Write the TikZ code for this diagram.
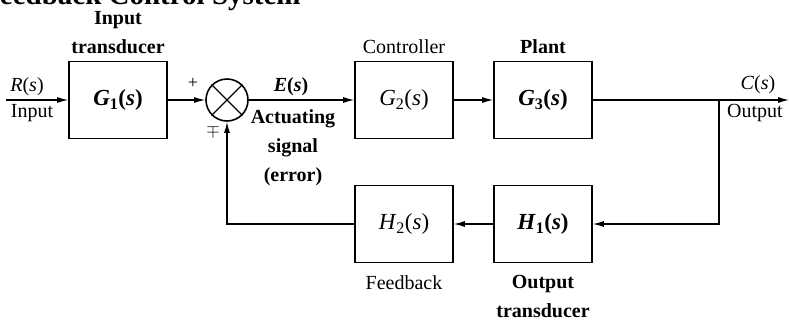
\documentclass[tikz,border=0pt]{standalone}
\usepackage{fontspec}
\setmainfont{Liberation Serif}
\usetikzlibrary{arrows.meta, positioning, calc}

\newcommand{\tfn}[2]{\textit{#1}\textsubscript{#2}(\textit{s})}
\newcommand{\sig}[1]{\textit{#1}(\textit{s})}

\begin{document}
\begin{tikzpicture}[
    x=1pt, y=-1pt,
    >={Latex[length=11pt,width=6pt]},
    block/.style={draw, line width=1.6pt, minimum width=98pt, minimum height=77pt,
                  font=\fontsize{23}{26}\selectfont},
    sumpt/.style={draw, circle, line width=1.6pt, minimum size=42pt, inner sep=0pt},
    signal/.style={->, line width=1.2pt},
    wire/.style={line width=1.2pt},
    note/.style={font=\fontsize{20}{29}\selectfont, align=center, inner sep=0pt},
    boldnote/.style={note, font=\fontsize{20}{29}\selectfont\bfseries},
    sign/.style={font=\fontsize{18}{18}\selectfont, inner sep=0pt},
]
    \useasboundingbox (0,0) rectangle (789,322);
    \clip (0,0) rectangle (789,322);

    % Title (cut off by the frame)
    \node[anchor=base west, inner sep=0pt, font=\fontsize{29}{30}\selectfont\bfseries]
        (title) at (-18,4) {Feedback Control System};

    % Forward path
    \node[block] (g1) at (118,100) {\textbf{\tfn{G}{1}}};
    \node[sumpt] (sum) at (227,100) {};
    \node[block] (g2) at (404,100) {\tfn{G}{2}};
    \node[block] (g3) at (543,100) {\textbf{\tfn{G}{3}}};

    % Feedback path
    \node[block] (h1) at (543,224) {\textbf{\tfn{H}{1}}};
    \node[block] (h2) at (404,224) {\tfn{H}{2}};

    \coordinate (in) at (6,100);
    \coordinate (out) at (789,100);
    \coordinate (branch) at (719,100);

    % Cross in the summing junction
    \draw[wire] (sum.45) -- (sum.225) (sum.135) -- (sum.-45);

    % Arrows
    \draw[signal] (in) -- (g1);
    \draw[signal] (g1) -- (sum);
    \draw[signal] (sum) -- (g2);
    \draw[signal] (g2) -- (g3);
    \draw[signal] (g3) -- (out);
    \draw[signal] (branch) |- (h1);
    \draw[signal] (h1) -- (h2);
    \draw[signal] (h2) -| (sum.south);

    % Labels
    \node[boldnote] (lg1) at (118,33) {Input\\transducer};
    \node[note] (lg2) at (404,47) {Controller};
    \node[boldnote] (lg3) at (543,47) {Plant};
    \node[note] (lh2) at (404,283) {Feedback};
    \node[boldnote] (lh1) at (543,296) {Output\\transducer};

    \node[note] (rs) at (27,87) {\sig{R}};
    \node[note] (rin) at (32,113) {Input};
    \node[sign] (plus) at (193,83) {+};
    \node[sign] (mp) at (213,131) {$\mp$};
    \node[boldnote] (es) at (291,87) {\sig{E}};
    \node[boldnote] (err) at (293,148) {Actuating\\signal\\(error)};
    \node[note] (cs) at (758,85) {\sig{C}};
    \node[note, anchor=west] (cout) at (727,113) {Output};
\end{tikzpicture}
\end{document}
